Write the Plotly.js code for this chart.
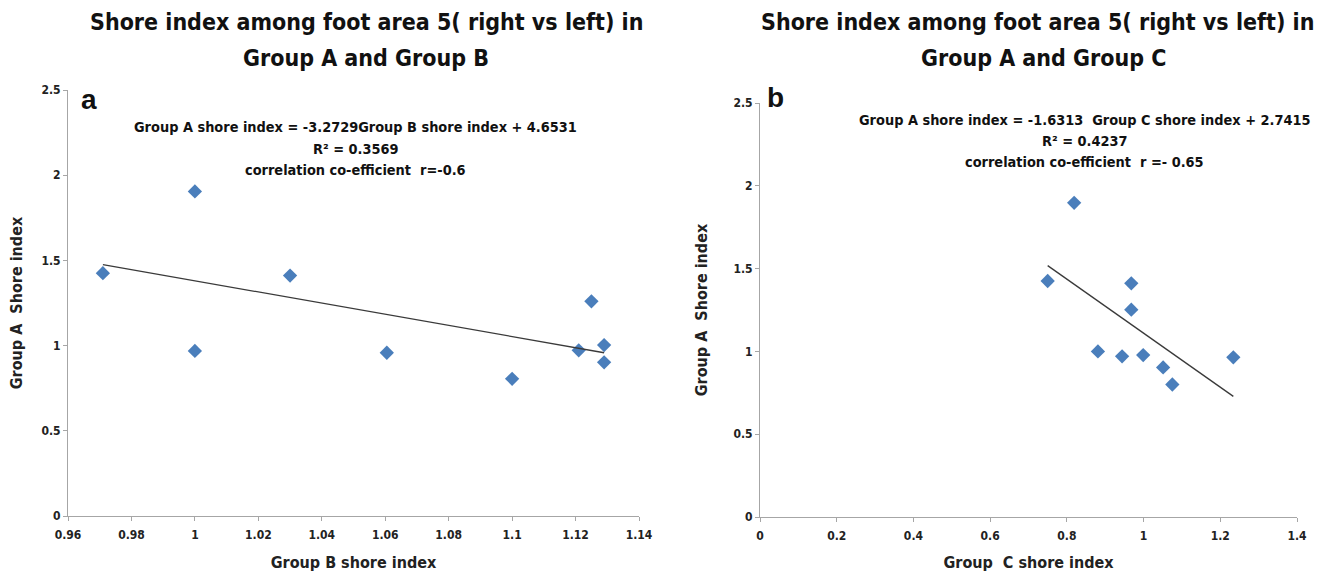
<!DOCTYPE html>
<html><head><meta charset="utf-8">
<script src="https://cdn.plot.ly/plotly-3.0.1.min.js"></script>
<style>html,body{margin:0;padding:0;background:#fff}#chart{width:1343px;height:572px}</style>
</head><body><div id="chart"></div>
<script>
// Panel a: Group B (x) vs Group A (y)
const groupB_x = [0.971, 1.000, 1.000, 1.030, 1.0605, 1.100, 1.121, 1.125, 1.129, 1.129];
const groupA_a = [1.425, 1.905, 0.969, 1.411, 0.958, 0.805, 0.972, 1.260, 1.003, 0.902];
// Panel b: Group C (x) vs Group A (y)
const groupC_x = [0.750, 0.819, 0.944, 0.999, 0.968, 0.968, 0.881, 1.234, 1.075, 1.051];
const groupA_b = [1.425, 1.897, 0.970, 0.978, 1.411, 1.252, 1.000, 0.964, 0.800, 0.903];
// Trend line coefficients (as printed)
const slopeA = -3.2729, interceptA = 4.6531;
const slopeB = -1.6313, interceptB = 2.7415;
const xTicksA = [0.96, 0.98, 1, 1.02, 1.04, 1.06, 1.08, 1.1, 1.12, 1.14];
const xTicksB = [0, 0.2, 0.4, 0.6, 0.8, 1, 1.2, 1.4];
const yTicks = [0, 0.5, 1, 1.5, 2, 2.5];
const titleA = ['Shore index among foot area 5( right vs left) in', 'Group A and Group B'];
const titleB = ['Shore index among foot area 5( right vs left) in', 'Group A and Group C'];
const eqA = ['Group A shore index = -3.2729Group B shore index + 4.6531', 'R² = 0.3569', 'correlation co-efficient  r=-0.6'];
const eqB = ['Group A shore index = -1.6313  Group C shore index + 2.7415', 'R² = 0.4237', 'correlation co-efficient  r =- 0.65'];

const FONT = "DejaVu Sans Condensed, Lato, sans-serif";
const mk = {symbol:'diamond', size:11, color:'#4a7ebb'};
function trend(xs, m, b){
  const lo = Math.min(...xs), hi = Math.max(...xs);
  return {x:[lo,hi], y:[m*lo+b, m*hi+b]};
}
const tA = trend(groupB_x, slopeA, interceptA);
const tB = trend(groupC_x, slopeB, interceptB);

const data = [
  {x:groupB_x, y:groupA_a, mode:'markers', type:'scatter', marker:mk, xaxis:'x', yaxis:'y'},
  {x:tA.x, y:tA.y, mode:'lines', type:'scatter', line:{color:'#3a3a3a', width:1.3}, xaxis:'x', yaxis:'y'},
  {x:groupC_x, y:groupA_b, mode:'markers', type:'scatter', marker:mk, xaxis:'x2', yaxis:'y2'},
  {x:tB.x, y:tB.y, mode:'lines', type:'scatter', line:{color:'#3a3a3a', width:1.3}, xaxis:'x2', yaxis:'y2'}
];

const tickfont = {family:FONT, size:12, color:'#222', weight:'bold'};
const axBase = {showgrid:false, zeroline:false, showline:true, linecolor:'#a6a6a6', linewidth:1,
  ticks:'outside', ticklen:4, tickcolor:'#a6a6a6', tickfont:tickfont, automargin:false};
const titleFont = {family:FONT, size:16, color:'#222', weight:'bold'};

const ann = [];
function addLines(lines, cxs, ys, size, weight){
  lines.forEach((t,i)=>ann.push({text:t, xref:'paper', yref:'paper', x:cxs[i]/1343, y:1-ys[i]/572,
    xanchor:'center', yanchor:'middle', showarrow:false, font:{family:FONT, size:size, color:'#111', weight:weight}}));
}
addLines(titleA, [367, 366], [22, 58], 23, 'bold');
addLines(titleB, [1037, 1043], [22, 58], 23, 'bold');
addLines(eqA, [355, 355, 355], [127, 149, 170], 14.4, 'bold');
addLines(eqB, [1084, 1084, 1084], [120, 141, 162], 14.4, 'bold');
ann.push({text:'<b>a</b>', xref:'paper', yref:'paper', x:89/1343, y:1-100/572, showarrow:false, xanchor:'center', yanchor:'middle',
     font:{family:'Liberation Sans, Arial, sans-serif', size:28, color:'#111'}});
ann.push({text:'<b>b</b>', xref:'paper', yref:'paper', x:775/1343, y:1-97/572, showarrow:false, xanchor:'center', yanchor:'middle',
     font:{family:'Liberation Sans, Arial, sans-serif', size:28, color:'#111'}});

const layout = {
  width:1343, height:572, margin:{l:0,r:0,t:0,b:0}, showlegend:false,
  paper_bgcolor:'#fff', plot_bgcolor:'#fff',
  xaxis:Object.assign({}, axBase, {domain:[68/1343, 639/1343], range:[0.96,1.14], tickvals:xTicksA, ticktext:xTicksA.map(String),
    ticklabelstandoff:4, title:{text:'Group B shore index', font:titleFont, standoff:18}, anchor:'y'}),
  yaxis:Object.assign({}, axBase, {domain:[56/572, 482/572], range:[0,2.5], tickvals:yTicks, ticktext:yTicks.map(String),
    title:{text:'Group A  Shore index', font:titleFont, standoff:14}, anchor:'x'}),
  xaxis2:Object.assign({}, axBase, {domain:[760/1343, 1297/1343], range:[0,1.4], tickvals:xTicksB, ticktext:xTicksB.map(String),
    ticklabelstandoff:4, title:{text:'Group  C shore index', font:titleFont, standoff:18}, anchor:'y2'}),
  yaxis2:Object.assign({}, axBase, {domain:[55/572, 469/572], range:[0,2.5], tickvals:yTicks, ticktext:yTicks.map(String),
    title:{text:'Group A  Shore index', font:titleFont, standoff:21}, anchor:'x2'}),
  annotations:ann
};
Plotly.newPlot('chart', data, layout, {staticPlot:true, displayModeBar:false});
</script></body></html>
